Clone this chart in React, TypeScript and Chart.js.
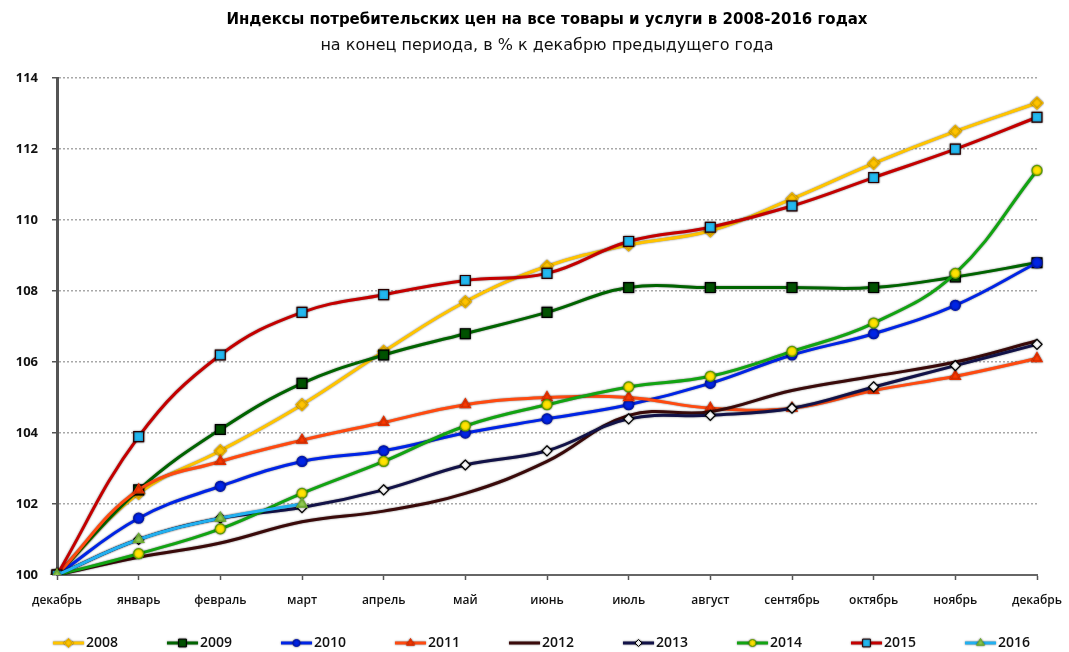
import React, { useEffect, useRef } from 'react';
import { Chart, registerables } from 'chart.js';
import { drawPoint } from 'chart.js/helpers';

Chart.register(...registerables);

const months = ['декабрь', 'январь', 'февраль', 'март', 'апрель', 'май', 'июнь', 'июль', 'август', 'сентябрь', 'октябрь', 'ноябрь', 'декабрь'];
const years = ['2008', '2009', '2010', '2011', '2012', '2013', '2014', '2015', '2016'];

const cpi2008 = [100, 102.3, 103.5, 104.8, 106.3, 107.7, 108.7, 109.3, 109.7, 110.6, 111.6, 112.5, 113.3];
const cpi2009 = [100, 102.4, 104.1, 105.4, 106.2, 106.8, 107.4, 108.1, 108.1, 108.1, 108.1, 108.4, 108.8];
const cpi2010 = [100, 101.6, 102.5, 103.2, 103.5, 104.0, 104.4, 104.8, 105.4, 106.2, 106.8, 107.6, 108.8];
const cpi2011 = [100, 102.4, 103.2, 103.8, 104.3, 104.8, 105.0, 105.0, 104.7, 104.7, 105.2, 105.6, 106.1];
const cpi2012 = [100, 100.5, 100.9, 101.5, 101.8, 102.3, 103.2, 104.5, 104.6, 105.2, 105.6, 106.0, 106.6];
const cpi2013 = [100, 101.0, 101.6, 101.9, 102.4, 103.1, 103.5, 104.4, 104.5, 104.7, 105.3, 105.9, 106.5];
const cpi2014 = [100, 100.6, 101.3, 102.3, 103.2, 104.2, 104.8, 105.3, 105.6, 106.3, 107.1, 108.5, 111.4];
const cpi2015 = [100, 103.9, 106.2, 107.4, 107.9, 108.3, 108.5, 109.4, 109.8, 110.4, 111.2, 112.0, 112.9];
const cpi2016 = [100, 101.0, 101.6, 102.0];

const seriesValues = [cpi2008, cpi2009, cpi2010, cpi2011, cpi2012, cpi2013, cpi2014, cpi2015, cpi2016];

const titleText = 'Индексы потребительских цен на все товары и услуги в 2008-2016 годах';
const subtitleText = 'на конец периода, в % к декабрю предыдущего года';

const FONT = "'Open Sans', 'DejaVu Sans', sans-serif";
const TITLE_FONT = "'DejaVu Sans', sans-serif";

type Style = { line: string; style: any; radius: number; bg: string; border: string };
const styles: Style[] = [
  { line: '#FFC400', style: 'rectRot', radius: 6, bg: '#FFC400', border: '#F0B400' },
  { line: '#006400', style: 'rect', radius: 7, bg: '#005200', border: '#000000' },
  { line: '#0024E6', style: 'circle', radius: 5, bg: '#0024E6', border: '#0016B0' },
  { line: '#FF4A10', style: 'triangle', radius: 6, bg: '#FF3A00', border: '#E83000' },
  { line: '#3A0A0A', style: 'circle', radius: 0, bg: '#3A0A0A', border: '#3A0A0A' },
  { line: '#121248', style: 'rectRot', radius: 5, bg: '#FFFFFF', border: '#000000' },
  { line: '#12A412', style: 'circle', radius: 5, bg: '#FFE400', border: '#5AA000' },
  { line: '#C40000', style: 'rect', radius: 7, bg: '#22B8F0', border: '#2A0000' },
  { line: '#22B0F0', style: 'triangle', radius: 6, bg: '#92D050', border: '#6CB030' },
];

const glowPlugin = {
  id: 'glow',
  beforeDatasetDraw(chart: any) {
    const ctx = chart.ctx;
    ctx.save();
    ctx.shadowColor = 'rgba(0,0,0,0.55)';
    ctx.shadowBlur = 2;
    ctx.shadowOffsetX = 0;
    ctx.shadowOffsetY = 0;
  },
  afterDatasetDraw(chart: any) {
    chart.ctx.restore();
  },
};

const lineLegendPlugin = {
  id: 'lineLegend',
  afterDraw(chart: any) {
    const ctx = chart.ctx;
    const startX = 53;
    const step = 114;
    const y = 643;
    chart.data.datasets.forEach((ds: any, i: number) => {
      const x0 = startX + step * i;
      ctx.save();
      ctx.shadowColor = 'rgba(0,0,0,0.55)';
      ctx.shadowBlur = 2;
      ctx.strokeStyle = ds.borderColor;
      ctx.lineWidth = 3;
      ctx.beginPath();
      ctx.moveTo(x0, y);
      ctx.lineTo(x0 + 31, y);
      ctx.stroke();
      if (ds.pointRadius > 0) {
        ctx.fillStyle = ds.pointBackgroundColor;
        ctx.strokeStyle = ds.pointBorderColor;
        ctx.lineWidth = 1;
        drawPoint(ctx, { pointStyle: ds.pointStyle, radius: ds.pointRadius - 1.5, rotation: 0, borderWidth: 1 }, x0 + 15.5, y);
      }
      ctx.restore();
      ctx.save();
      ctx.fillStyle = '#111';
      ctx.font = `600 14px ${FONT}`;
      ctx.textBaseline = 'middle';
      ctx.textAlign = 'left';
      ctx.fillText(ds.label, x0 + 33, y);
      ctx.restore();
    });
  },
};

export default function App() {
  const canvasRef = useRef<HTMLCanvasElement | null>(null);

  useEffect(() => {
    const canvas = canvasRef.current;
    if (!canvas) return;
    const datasets = seriesValues.map((vals, i) => {
      const s = styles[i];
      return {
        label: years[i],
        data: vals,
        borderColor: s.line,
        backgroundColor: s.line,
        borderWidth: 3,
        tension: 0.4,
        pointStyle: s.style,
        pointRadius: s.radius,
        pointBackgroundColor: s.bg,
        pointBorderColor: s.border,
        pointBorderWidth: 1.2,
        fill: false,
        order: seriesValues.length - i,
      };
    });
    const chart = new Chart(canvas, {
      type: 'line',
      data: { labels: months, datasets },
      plugins: [glowPlugin, lineLegendPlugin],
      options: {
        responsive: false,
        animation: false,
        layout: { padding: { left: 0, right: 32, top: 0, bottom: 0 } },
        plugins: {
          legend: { display: false },
          tooltip: { enabled: false },
          title: {
            display: true,
            text: titleText,
            fullSize: false,
            color: '#000',
            font: { family: TITLE_FONT, size: 15, weight: 'bold', lineHeight: 1.2 },
            padding: { top: 11, bottom: 0 },
          },
          subtitle: {
            display: true,
            text: subtitleText,
            fullSize: false,
            color: '#111',
            font: { family: TITLE_FONT, size: 16, weight: 'normal', lineHeight: 1.2 },
            padding: { top: 7, bottom: 23 },
          },
        },
        scales: {
          x: {
            grid: { drawOnChartArea: false, drawTicks: true, tickLength: 5, tickColor: '#555', tickWidth: 1.5 },
            border: { color: '#666', width: 2 },
            ticks: { color: '#111', font: { family: FONT, size: 12, weight: 600 }, padding: 13, maxRotation: 0, autoSkip: false },
            afterFit: (s: any) => { s.height = 77; s.paddingLeft = 0; s.paddingRight = 0; },
          },
          y: {
            min: 100,
            max: 114,
            ticks: { stepSize: 2, color: '#111', font: { family: FONT, size: 13, weight: 'bold' }, padding: 14 },
            grid: { color: '#a8a8a8', lineWidth: 1.5, tickColor: '#555', tickLength: 5, tickWidth: 1.5 },
            border: { color: '#555', width: 3, dash: [2, 2] },
            afterFit: (s: any) => { s.width = 57; },
          },
        },
      },
    } as any);
    return () => chart.destroy();
  }, []);

  return (
    <div style={{ position: 'absolute', left: 0, top: 0, width: 1069, height: 652, background: '#fff' }}>
      <canvas ref={canvasRef} width={1069} height={652} style={{ display: 'block' }} />
    </div>
  );
}
